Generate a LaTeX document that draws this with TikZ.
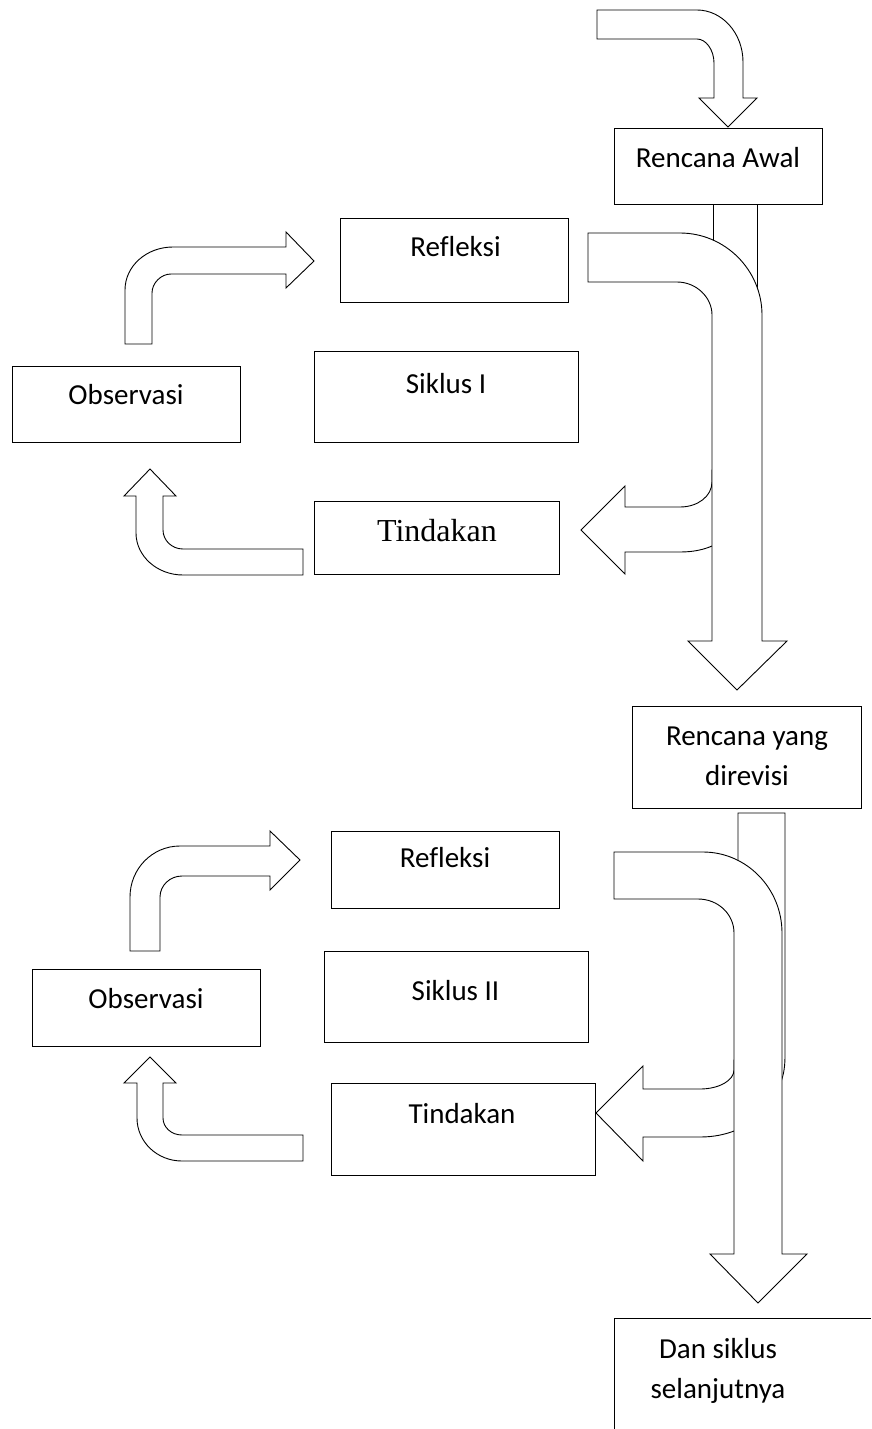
\documentclass[tikz,border=0pt]{standalone}
\usepackage{fontspec}
\setmainfont{Carlito}[Ligatures=NoCommon]
\newfontfamily\serifT{Liberation Serif}
\begin{document}
\begin{tikzpicture}[x=1pt,y=-1pt,
  shp/.style={draw=black, line width=0.9pt, fill=white, line join=miter},
  box/.style={draw=black, line width=0.9pt, fill=white, inner sep=0pt, outer sep=0pt},
  lbl/.style={inner sep=0pt, font=\fontsize{29}{35}\selectfont, anchor=base},
  lblserif/.style={inner sep=0pt, font=\serifT\fontsize{32}{38}\selectfont, anchor=base}]
\useasboundingbox (0,0) rectangle (871,1429);
\fill[white] (0,0) rectangle (871,1429);

% ---------- top entry arrow ----------
\draw[shp] (597,10) -- (697,10) .. controls (722,10) and (743,33) .. (743,62)
  -- (743,98) -- (757,98) -- (728,127) -- (699,98) -- (714,98) -- (714,63)
  .. controls (714,50) and (706,39) .. (697,39) -- (597,39) -- cycle;

% ---------- cycle I : right side ----------
% stub under Rencana Awal
\draw[shp] (713,204) -- (757,204) -- (757,420) -- (713,420) -- cycle;
% left branch arrow (partly hidden)
\draw[shp] (745,470) -- (712,470) -- (712,482) .. controls (712,496) and (698,507) .. (680,507)
  -- (625,507) -- (625,486) -- (581,530) -- (625,574) -- (625,552) -- (680,552)
  .. controls (695,552) and (705,549) .. (712,546) -- (745,546) -- cycle;
% big bent arrow
\draw[shp] (588,233) -- (680,233) .. controls (725,233) and (762,270) .. (762,315)
  -- (762,641) -- (787,641) -- (737,690) -- (688,641) -- (712,641) -- (712,315)
  .. controls (712,297) and (696,282) .. (677,282) -- (588,282) -- cycle;

% ---------- cycle I : left side ----------
\draw[shp] (125,344) -- (125,290) .. controls (125,266) and (146.5,247) .. (173,247)
  -- (286,247) -- (286,232) -- (314,261) -- (286,288) -- (286,274) -- (171,274)
  .. controls (161,274) and (152,283) .. (152,293) -- (152,344) -- cycle;
\draw[shp] (150,469) -- (176,496) -- (163,496) -- (163,530)
  .. controls (163,540.5) and (172,549) .. (183,549) -- (303,549) -- (303,575) -- (183,575)
  .. controls (157,575) and (136,556) .. (136,533) -- (136,496) -- (124,496) -- cycle;

% ---------- cycle I boxes ----------
\node[box, minimum width=208pt, minimum height=76pt] (awal) at (718,166) {};
\node[box, minimum width=228pt, minimum height=84pt] (refl1) at (454,260) {};
\node[box, minimum width=264pt, minimum height=91pt] (sik1) at (446,396.5) {};
\node[box, minimum width=228pt, minimum height=76pt] (obs1) at (126,404) {};
\node[box, minimum width=245pt, minimum height=73pt] (tind1) at (436.5,537.5) {};

\node[lbl] (awalT) at (718,167) {Rencana Awal};
\node[lbl] (refl1T) at (455.5,256) {Refleksi};
\node[lbl] (sik1T) at (446,393) {Siklus I};
\node[lbl] (obs1T) at (126,404) {Observasi};
\node[lblserif] (tind1T) at (437,541) {Tindakan};

% ---------- cycle II : right side ----------
\draw[shp] (738,1100) -- (738,813) -- (785,813) -- (785,1055)
  .. controls (785,1066) and (784,1073) .. (781,1082) -- cycle;
\draw[shp] (765,1060) -- (734,1060) -- (734,1070) .. controls (734,1080.5) and (718.8,1089) .. (700,1089)
  -- (643,1089) -- (643,1066) -- (596,1113) -- (643,1161) -- (643,1137) -- (700,1137)
  .. controls (715,1137) and (726,1134) .. (734,1131) -- (765,1131) -- cycle;
\draw[shp] (614,852) -- (703,852) .. controls (746.6,852) and (782,888.3) .. (782,933)
  -- (782,1254) -- (807,1254) -- (758,1303) -- (710,1254) -- (734,1254) -- (734,933)
  .. controls (734,914) and (718,899) .. (698,899) -- (614,899) -- cycle;

% ---------- cycle II : left side ----------
\draw[shp] (130,951) -- (130,897) .. controls (130,869) and (152,846) .. (180,846)
  -- (270,846) -- (270,831) -- (300,860) -- (270,890) -- (270,876) -- (182,876)
  .. controls (170,876) and (160,885.4) .. (160,897) -- (160,951) -- cycle;
\draw[shp] (150,1057) -- (176,1083) -- (163,1083) -- (163,1118)
  .. controls (163,1127.4) and (171.5,1135) .. (182,1135) -- (303,1135) -- (303,1161) -- (182,1161)
  .. controls (157,1161) and (137,1141.7) .. (137,1118) -- (137,1083) -- (124,1083) -- cycle;

% ---------- cycle II boxes ----------
\node[box, minimum width=229pt, minimum height=102pt] (revisi) at (746.5,757) {};
\node[box, minimum width=228pt, minimum height=77pt] (refl2) at (445,869.5) {};
\node[box, minimum width=264pt, minimum height=91pt] (sik2) at (456,996.5) {};
\node[box, minimum width=228pt, minimum height=77pt] (obs2) at (146,1007.5) {};
\node[box, minimum width=264pt, minimum height=92pt] (tind2) at (463,1129) {};

\node[lbl] (revisiT1) at (747,745) {Rencana yang};
\node[lbl] (revisiT2) at (747,785) {direvisi};
\node[lbl] (refl2T) at (445,867) {Refleksi};
\node[lbl] (sik2T) at (455.5,1000) {Siklus II};
\node[lbl] (obs2T) at (146,1008) {Observasi};
\node[lbl] (tind2T) at (462,1123) {Tindakan};

% ---------- next cycle box (cut by page edge) ----------
\coordinate (danTL) at (614,1318);
\draw[line width=0.9pt] (614,1429) -- (danTL) -- (871,1318);
\node[lbl] (danT1) at (718,1358) {Dan siklus};
\node[lbl] (danT2) at (718,1398) {selanjutnya};
\end{tikzpicture}
\end{document}
